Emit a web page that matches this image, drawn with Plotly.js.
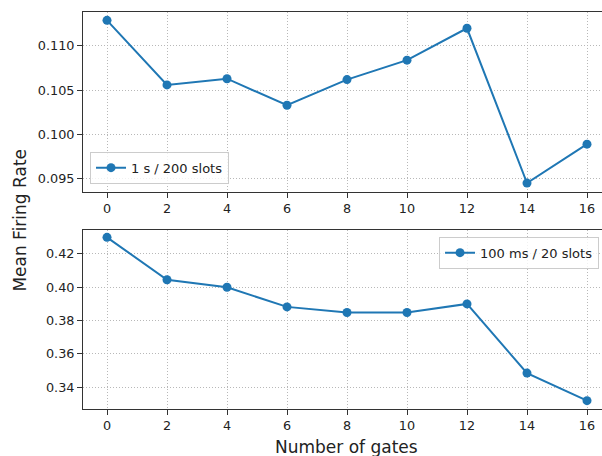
<!DOCTYPE html>
<html>
<head>
<meta charset="utf-8">
<script src="https://cdn.plot.ly/plotly-3.0.1.min.js"></script>
<style>html,body{margin:0;padding:0;background:#fff;}#chart{width:602px;height:456px;}</style>
</head>
<body>
<div id="chart"></div>
<script>
const gates = [0, 2, 4, 6, 8, 10, 12, 14, 16];
const rate1s = [0.1129, 0.1056, 0.1063, 0.1033, 0.1062, 0.1084, 0.1120, 0.0945, 0.0989];
const rate100ms = [0.4300, 0.4045, 0.4000, 0.3882, 0.3848, 0.3848, 0.3900, 0.3484, 0.3318];
const label1s = '1 s / 200 slots';
const label100ms = '100 ms / 20 slots';
const xTitle = 'Number of gates';
const yTitle = 'Mean Firing Rate';

const blue = '#1f77b4';
const font = 'DejaVu Sans, sans-serif';

const traces = [
  {x: gates, y: rate1s, name: label1s, type: 'scatter', mode: 'lines+markers',
   line: {color: blue, width: 2}, marker: {color: blue, size: 9},
   xaxis: 'x', yaxis: 'y', legend: 'legend'},
  {x: gates, y: rate100ms, name: label100ms, type: 'scatter', mode: 'lines+markers',
   line: {color: blue, width: 2}, marker: {color: blue, size: 9},
   xaxis: 'x2', yaxis: 'y2', legend: 'legend2'}
];

const xCommon = {
  range: [-0.8, 16.5], tickvals: gates, ticks: 'outside', ticklen: 5, tickwidth: 1,
  tickcolor: '#333', showline: true, linecolor: '#333', linewidth: 1, mirror: true,
  showgrid: true, gridcolor: '#b8b8b8', griddash: '1px,2px', gridwidth: 1, zeroline: false,
  tickfont: {family: font, size: 12.8, color: '#222'}
};
const yCommon = {
  ticks: 'outside', ticklen: 5, tickwidth: 1, tickcolor: '#333', showline: true,
  linecolor: '#333', linewidth: 1, mirror: false,
  showgrid: true, gridcolor: '#b8b8b8', griddash: '1px,2px', gridwidth: 1, zeroline: false,
  tickfont: {family: font, size: 12.8, color: '#222'}
};

const legendCommon = {
  bgcolor: 'rgba(255,255,255,0.8)', bordercolor: '#cccccc', borderwidth: 1,
  font: {family: font, size: 13, color: '#222'}, itemwidth: 30
};

const layout = {
  width: 602, height: 456,
  margin: {l: 83, r: 0, t: 12, b: 47},
  paper_bgcolor: '#fff', plot_bgcolor: '#fff',
  showlegend: true,
  xaxis: Object.assign({}, xCommon, {anchor: 'y', domain: [0, 1]}),
  yaxis: Object.assign({}, yCommon, {anchor: 'x', domain: [0.5474, 1],
    range: [0.09353, 0.11384], tickvals: [0.095, 0.100, 0.105, 0.110], tickformat: '.3f'}),
  xaxis2: Object.assign({}, xCommon, {anchor: 'y2', domain: [0, 1]}),
  yaxis2: Object.assign({}, yCommon, {anchor: 'x2', domain: [0, 0.4516],
    range: [0.3268, 0.4346], tickvals: [0.34, 0.36, 0.38, 0.40, 0.42], tickformat: '.2f'}),
  legend: Object.assign({}, legendCommon, {x: 0.0135, y: 0.5675, xanchor: 'left', yanchor: 'bottom'}),
  legend2: Object.assign({}, legendCommon, {x: 0.686, y: 0.434, xanchor: 'left', yanchor: 'top'}),
  annotations: [
    {text: yTitle, xref: 'paper', yref: 'paper', x: -0.1214, y: 0.477, xanchor: 'center', yanchor: 'middle',
     textangle: -90, showarrow: false, font: {family: font, size: 17, color: '#222'}},
    {text: xTitle, xref: 'paper', yref: 'paper', x: 0.507, y: -0.095, xanchor: 'center', yanchor: 'middle',
     showarrow: false, font: {family: font, size: 17, color: '#222'}}
  ]
};

Plotly.newPlot('chart', traces, layout, {displayModeBar: false, staticPlot: true});
</script>
</body>
</html>
